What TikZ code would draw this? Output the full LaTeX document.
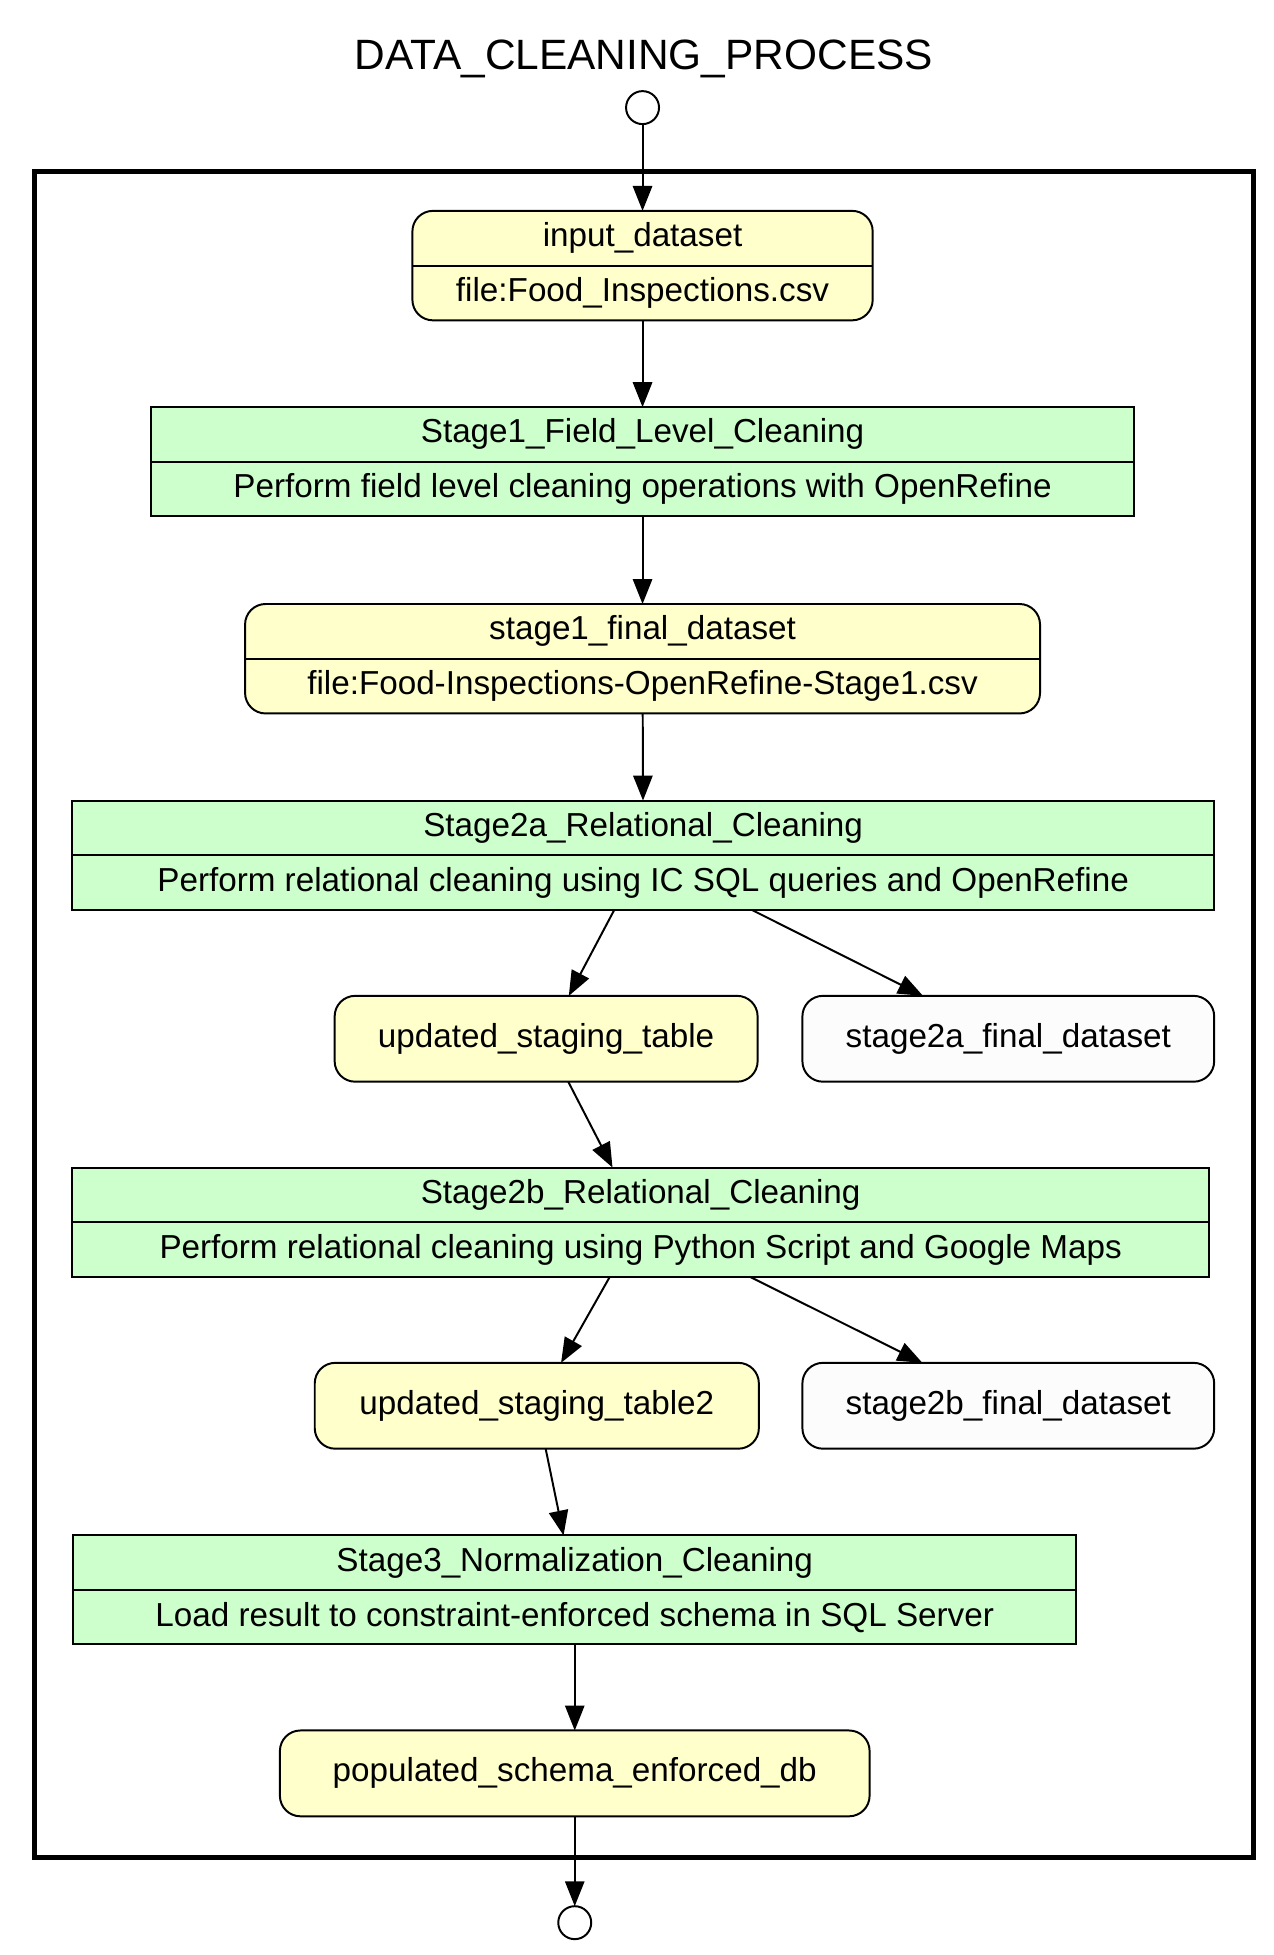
\documentclass[tikz,border=0pt]{standalone}
\usepackage{fontspec}
\setmainfont{Liberation Sans}
\usetikzlibrary{arrows.meta}
\definecolor{dataYellow}{HTML}{FFFFCC}
\definecolor{stageGreen}{HTML}{CCFFCC}
\definecolor{outGray}{HTML}{FCFCFC}

\begin{document}
\begin{tikzpicture}[
    line width=0.9pt,
    every node/.style={outer sep=0pt, font=\fontsize{15.2}{25}\selectfont},
    dataset/.style={draw, fill=dataYellow, rounded corners=0.33cm, align=center, inner sep=0pt},
    stage/.style={draw, fill=stageGreen, align=center, inner sep=0pt},
    output/.style={draw, fill=outGray, rounded corners=0.33cm, inner sep=0pt},
    terminal/.style={draw, circle, fill=white, minimum size=0.53cm, inner sep=0pt},
    flow/.style={-{Triangle[length=0.4cm,width=0.31cm]}}
]
    \useasboundingbox (0,0) rectangle (20.48,-31.43);

    % Title and start
    \node[font=\fontsize{19.4}{23}\selectfont, anchor=base] (title) at (10.35,-1.12) {DATA\_CLEANING\_PROCESS};
    \node[terminal] (start) at (10.33,-1.73) {};

    % Workflow frame
    \draw[line width=2.2pt] (0.554,-2.76) rectangle (20.15,-29.86);

    % Stage 1
    \node[dataset, minimum width=7.40cm, minimum height=1.76cm] (input) at (10.33,-4.27)
        {input\_dataset\\file:Food\_Inspections.csv};
    \draw (input.west) -- (input.east);
    \node[stage, minimum width=15.80cm, minimum height=1.75cm] (stage1) at (10.33,-7.42)
        {Stage1\_Field\_Level\_Cleaning\\Perform field level cleaning operations with OpenRefine};
    \draw (stage1.west) -- (stage1.east);
    \node[dataset, minimum width=12.78cm, minimum height=1.76cm] (s1final) at (10.33,-10.59)
        {stage1\_final\_dataset\\file:Food-Inspections-OpenRefine-Stage1.csv};
    \draw (s1final.west) -- (s1final.east);

    % Stage 2a
    \node[stage, minimum width=18.36cm, minimum height=1.76cm] (stage2a) at (10.34,-13.75)
        {Stage2a\_Relational\_Cleaning\\Perform relational cleaning using IC SQL queries and OpenRefine};
    \draw (stage2a.west) -- (stage2a.east);
    \node[dataset, minimum width=6.80cm, minimum height=1.38cm] (updated) at (8.78,-16.70) {updated\_staging\_table};
    \node[output, minimum width=6.62cm, minimum height=1.38cm] (s2afinal) at (16.21,-16.70) {stage2a\_final\_dataset};

    % Stage 2b
    \node[stage, minimum width=18.28cm, minimum height=1.76cm] (stage2b) at (10.30,-19.65)
        {Stage2b\_Relational\_Cleaning\\Perform relational cleaning using Python Script and Google Maps};
    \draw (stage2b.west) -- (stage2b.east);
    \node[dataset, minimum width=7.14cm, minimum height=1.38cm] (updated2) at (8.63,-22.60) {updated\_staging\_table2};
    \node[output, minimum width=6.62cm, minimum height=1.38cm] (s2bfinal) at (16.21,-22.60) {stage2b\_final\_dataset};

    % Stage 3
    \node[stage, minimum width=16.12cm, minimum height=1.75cm] (stage3) at (9.24,-25.56)
        {Stage3\_Normalization\_Cleaning\\Load result to constraint-enforced schema in SQL Server};
    \draw (stage3.west) -- (stage3.east);
    \node[dataset, minimum width=9.48cm, minimum height=1.38cm] (populated) at (9.24,-28.51) {populated\_schema\_enforced\_db};
    \node[terminal] (finish) at (9.24,-30.91) {};

    % Flow arrows
    \draw[flow] (start) -- (input);
    \draw[flow] (input) -- (stage1);
    \draw[flow] (stage1) -- (s1final);
    \draw[flow] (s1final) -- (stage2a);
    \draw[flow] (stage2a) -- (updated);
    \draw[flow] (stage2a) -- (s2afinal);
    \draw[flow] (updated) -- (stage2b);
    \draw[flow] (stage2b) -- (updated2);
    \draw[flow] (stage2b) -- (s2bfinal);
    \draw[flow] (updated2) -- (stage3);
    \draw[flow] (stage3) -- (populated);
    \draw[flow] (populated) -- (finish);
\end{tikzpicture}
\end{document}
